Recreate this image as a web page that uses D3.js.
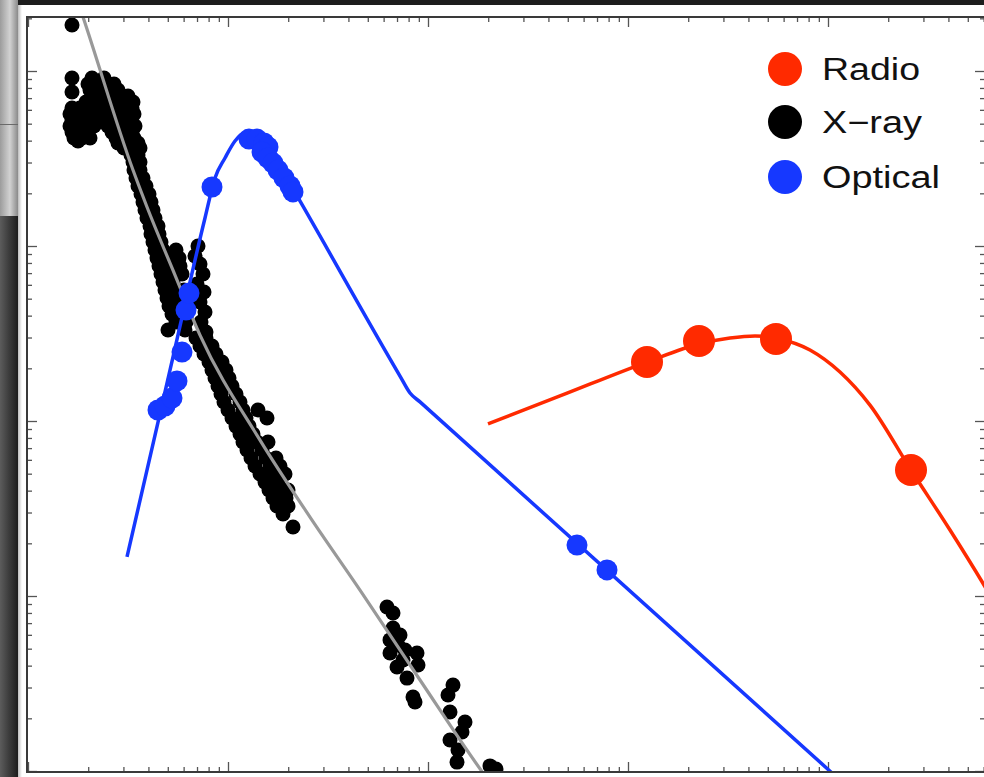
<!DOCTYPE html>
<html>
<head>
<meta charset="utf-8">
<script src="https://cdn.jsdelivr.net/npm/d3@7"></script>
<style>
html,body{margin:0;padding:0;background:#fff;overflow:hidden}
svg{display:block}
</style>
</head>
<body>
<svg id="chart" width="984" height="777"></svg>
<script>
// ---------------- data (log10 time, log10 flux) ----------------
const legendLabels = ["Radio", "X\u2212ray", "Optical"];

// X-ray observations [log10 t, log10 F]
const xray = [
  [2.22,1.263],[2.22,0.960],[2.22,0.880],
  [2.32,0.960],[2.38,0.960],
  [2.30,0.926],[2.35,0.926],[2.40,0.926],[2.43,0.926],
  [2.31,0.891],[2.36,0.891],[2.41,0.891],[2.45,0.891],
  [2.33,0.857],[2.38,0.857],[2.43,0.857],[2.47,0.857],[2.50,0.857],
  [2.29,0.823],[2.35,0.823],[2.40,0.823],[2.45,0.823],[2.49,0.823],[2.525,0.823],
  [2.22,0.789],[2.26,0.789],[2.31,0.789],[2.36,0.789],[2.42,0.789],[2.47,0.789],[2.52,0.789],
  [2.21,0.754],[2.25,0.754],[2.30,0.754],[2.34,0.754],[2.39,0.754],[2.44,0.754],[2.49,0.754],[2.53,0.754],
  [2.22,0.720],[2.27,0.720],[2.32,0.720],[2.37,0.720],[2.42,0.720],[2.46,0.720],[2.51,0.720],
  [2.21,0.686],[2.25,0.686],[2.29,0.686],[2.33,0.686],[2.40,0.686],[2.45,0.686],[2.50,0.686],[2.535,0.686],
  [2.22,0.651],[2.26,0.651],[2.30,0.651],[2.42,0.651],[2.47,0.651],[2.52,0.651],
  [2.23,0.617],[2.27,0.617],[2.31,0.617],[2.44,0.617],[2.49,0.617],[2.53,0.617],
  [2.25,0.600],[2.45,0.589],[2.50,0.589],[2.55,0.589],
  [2.48,0.560],[2.53,0.560],[2.56,0.560],
  [2.515,0.520],[2.55,0.520],
  [2.525,0.480],[2.56,0.480],
  [2.53,0.434],[2.56,0.434],
  [2.54,0.389],[2.575,0.389],
  [2.55,0.343],[2.59,0.343],
  [2.565,0.297],[2.605,0.297],
  [2.575,0.251],[2.615,0.251],
  [2.585,0.206],[2.625,0.206],
  [2.595,0.160],[2.635,0.160],
  [2.61,0.114],[2.65,0.114],
  [2.615,0.069],[2.655,0.069],
  [2.625,0.023],[2.665,0.023],
  [2.635,-0.023],[2.675,-0.023],[2.74,-0.023],
  [2.645,-0.069],[2.69,-0.069],[2.755,-0.069],
  [2.655,-0.114],[2.70,-0.114],[2.76,-0.114],
  [2.665,-0.160],[2.71,-0.160],[2.77,-0.160],
  [2.675,-0.206],[2.725,-0.206],
  [2.685,-0.251],[2.735,-0.251],[2.78,-0.251],
  [2.695,-0.297],[2.75,-0.297],
  [2.705,-0.343],[2.76,-0.343],
  [2.72,-0.389],[2.77,-0.389],
  [2.74,-0.434],[2.79,-0.434],
  [2.70,-0.480],[2.785,-0.480],
  [2.85,0.000],[2.835,-0.057],[2.86,-0.103],[2.875,-0.160],[2.845,-0.217],
  [2.88,-0.263],[2.86,-0.320],[2.885,-0.377],[2.865,-0.434],[2.89,-0.491],
  [2.84,-0.526],[2.89,-0.526],
  [2.86,-0.571],[2.92,-0.571],
  [2.88,-0.617],[2.94,-0.617],
  [2.905,-0.663],[2.97,-0.663],
  [2.92,-0.709],[2.99,-0.709],
  [2.935,-0.754],[3.005,-0.754],
  [2.95,-0.800],[3.02,-0.800],
  [2.965,-0.846],[3.04,-0.846],
  [2.98,-0.891],[3.06,-0.891],
  [3.00,-0.937],[3.075,-0.937],[3.15,-0.937],
  [3.02,-0.983],[3.09,-0.983],[3.195,-0.983],
  [3.04,-1.029],[3.105,-1.029],
  [3.06,-1.074],[3.125,-1.074],
  [3.075,-1.120],[3.145,-1.120],[3.20,-1.120],
  [3.095,-1.166],[3.17,-1.166],
  [3.115,-1.211],[3.19,-1.211],[3.24,-1.211],
  [3.135,-1.257],[3.21,-1.257],[3.26,-1.257],
  [3.16,-1.303],[3.23,-1.303],[3.285,-1.303],
  [3.185,-1.349],[3.25,-1.349],
  [3.205,-1.394],[3.27,-1.394],[3.30,-1.394],
  [3.225,-1.440],[3.29,-1.440],
  [3.245,-1.486],[3.30,-1.486],
  [3.275,-1.531],
  [3.325,-1.606],
  [3.795,-2.063],[3.825,-2.097],[3.825,-2.183],[3.86,-2.223],[3.81,-2.251],
  [3.85,-2.280],[3.885,-2.309],[3.81,-2.326],[3.945,-2.326],[3.875,-2.366],
  [3.95,-2.394],[3.845,-2.406],[3.895,-2.469],[3.925,-2.577],[3.935,-2.606],
  [4.125,-2.509],[4.10,-2.566],[4.11,-2.663],[4.185,-2.720],[4.17,-2.777],
  [4.11,-2.823],[4.15,-2.880],[4.145,-2.949],[4.31,-2.971],[4.34,-2.989]
];

// Optical observations
const optical = [
  [2.65,-0.937],[2.685,-0.914],[2.72,-0.869],[2.745,-0.771],[2.77,-0.606],
  [2.79,-0.366],[2.805,-0.269],[2.92,0.337],
  [3.105,0.611],[3.145,0.611],[3.18,0.589],[3.20,0.566],[3.17,0.537],
  [3.20,0.503],[3.225,0.474],[3.25,0.434],[3.28,0.389],[3.31,0.343],[3.325,0.309],
  [4.745,-1.709],[4.895,-1.851]
];

// Radio observations
const radio = [
  [5.095,-0.663],[5.355,-0.543],[5.74,-0.531],[6.415,-1.280]
];

// Model curves
const xrayModel = [
  [2.26,1.36],[2.275,1.309],[2.525,0.434],[2.595,0.223],[2.735,-0.166],[2.86,-0.509],
  [3.16,-1.109],[3.41,-1.549],[3.66,-1.966],[3.96,-2.480],[4.275,-3.011],[4.30,-3.05]
];
const opticalModel = [
  [2.495,-1.777],[2.71,-0.709],[2.885,0.160],[2.935,0.389],[2.985,0.503],[3.035,0.600],
  [3.08,0.646],[3.12,0.651],[3.16,0.629],[3.21,0.549],[3.27,0.434],[3.325,0.326],
  [3.86,-0.743],[3.91,-0.840],[3.96,-0.891],[6.02,-3.011]
];
const radioModel = [
  [4.30,-1.017],[4.66,-0.857],[5.095,-0.663],[5.355,-0.560],[5.51,-0.526],[5.635,-0.514],
  [5.76,-0.531],[5.91,-0.594],[6.06,-0.720],[6.21,-0.909],[6.415,-1.280],[6.61,-1.623],
  [6.78,-1.937],[6.91,-2.189]
];

// ---------------- drawing ----------------
const svg = d3.select("#chart");
const W = 984, H = 777;
const frame = {left: 27, right: 985, top: 17, bottom: 772};
const colors = {radio: "#ff2a00", xray: "#000000", optical: "#1638ff", fit: "#999999"};

const x = d3.scaleLog().domain([Math.pow(10, 2), Math.pow(10, 6.785)]).range([28, 985]);
const y = d3.scaleLog().domain([Math.pow(10, -3.0057), Math.pow(10, 1.3086)]).range([frame.bottom, frame.top]);
const px = d => x(Math.pow(10, d[0]));
const py = d => y(Math.pow(10, d[1]));

// backdrop (screen-capture surroundings)
const defs = svg.append("defs");
const gTop = defs.append("linearGradient").attr("id", "gTop").attr("x1", 0).attr("x2", 1).attr("y1", 0).attr("y2", 0);
gTop.append("stop").attr("offset", "0%").attr("stop-color", "#9c9c9c");
gTop.append("stop").attr("offset", "55%").attr("stop-color", "#d2d2d2");
gTop.append("stop").attr("offset", "100%").attr("stop-color", "#8a8a8a");
const gBot = defs.append("linearGradient").attr("id", "gBot").attr("x1", 0).attr("x2", 1).attr("y1", 0).attr("y2", 0);
gBot.append("stop").attr("offset", "0%").attr("stop-color", "#5c5c5c");
gBot.append("stop").attr("offset", "100%").attr("stop-color", "#1c1c1c");
const gSh = defs.append("linearGradient").attr("id", "gSh").attr("x1", 0).attr("x2", 1).attr("y1", 0).attr("y2", 0);
gSh.append("stop").attr("offset", "0%").attr("stop-color", "#bdbdbd");
gSh.append("stop").attr("offset", "100%").attr("stop-color", "#ffffff");

svg.append("rect").attr("width", W).attr("height", H).attr("fill", "#fff");
svg.append("rect").attr("x", 0).attr("y", 0).attr("width", W).attr("height", 5).attr("fill", "#1d1d1d");
svg.append("rect").attr("x", 0).attr("y", 0).attr("width", 18).attr("height", 216).attr("fill", "url(#gTop)");
svg.append("line").attr("x1", 0).attr("x2", 18).attr("y1", 124.5).attr("y2", 124.5).attr("stroke", "#6a6a6a").attr("stroke-width", 1);
svg.append("rect").attr("x", 0).attr("y", 216).attr("width", 18).attr("height", H - 216).attr("fill", "url(#gBot)");
svg.append("rect").attr("x", 18).attr("y", 5).attr("width", 4).attr("height", H - 5).attr("fill", "url(#gSh)");

defs.append("clipPath").attr("id", "clip").append("rect")
  .attr("x", frame.left).attr("y", frame.top)
  .attr("width", frame.right - frame.left).attr("height", frame.bottom - frame.top);

// axes (ticks only, pointing inward)
const isMajor = v => Math.abs(Math.log10(v) - Math.round(Math.log10(v))) < 1e-6;
const xt = x.ticks(), yt = y.ticks();
const xMaj = xt.filter(isMajor), xMin = xt.filter(v => !isMajor(v));
const yMaj = yt.filter(isMajor), yMin = yt.filter(v => !isMajor(v));

function axis(gen, vals, size, transform) {
  const g = svg.append("g").attr("transform", transform)
    .call(gen.tickValues(vals).tickSize(-size).tickSizeOuter(0).tickFormat(""));
  g.select(".domain").remove();
  g.selectAll(".tick line").attr("stroke", "#555").attr("stroke-width", 1.3);
}
axis(d3.axisBottom(x), xMaj, 10, `translate(0,${frame.bottom})`);
axis(d3.axisBottom(x), xMin, 5, `translate(0,${frame.bottom})`);
axis(d3.axisTop(x), xMaj, 10, `translate(0,${frame.top})`);
axis(d3.axisTop(x), xMin, 5, `translate(0,${frame.top})`);
axis(d3.axisLeft(y), yMaj, 10, `translate(${frame.left},0)`);
axis(d3.axisLeft(y), yMin, 5, `translate(${frame.left},0)`);
axis(d3.axisRight(y), yMaj, 10, `translate(${frame.right},0)`);
axis(d3.axisRight(y), yMin, 5, `translate(${frame.right},0)`);

const plot = svg.append("g").attr("clip-path", "url(#clip)");

// X-ray points
plot.append("g").selectAll("circle").data(xray).join("circle")
  .attr("cx", px).attr("cy", py).attr("r", 7.5).attr("fill", colors.xray);

const line = d3.line().x(px).y(py).curve(d3.curveMonotoneX);

plot.append("path").attr("d", line(xrayModel)).attr("fill", "none")
  .attr("stroke", colors.fit).attr("stroke-width", 3.2);

plot.append("path").attr("d", line(opticalModel)).attr("fill", "none")
  .attr("stroke", colors.optical).attr("stroke-width", 3.5);
plot.append("g").selectAll("circle").data(optical).join("circle")
  .attr("cx", px).attr("cy", py).attr("r", 10.5).attr("fill", colors.optical);

plot.append("path").attr("d", line(radioModel)).attr("fill", "none")
  .attr("stroke", colors.radio).attr("stroke-width", 3.5);
plot.append("g").selectAll("circle").data(radio).join("circle")
  .attr("cx", px).attr("cy", py).attr("r", 16).attr("fill", colors.radio);

// frame
svg.append("rect").attr("x", frame.left).attr("y", frame.top)
  .attr("width", frame.right - frame.left).attr("height", frame.bottom - frame.top)
  .attr("fill", "none").attr("stroke", "#3a3a3a").attr("stroke-width", 2);

// legend
const legendColors = [colors.radio, colors.xray, colors.optical];
const legendWidths = [98, 100, 118];
const legendRows = [69, 122, 177];
const lg = svg.append("g");
legendLabels.forEach((lab, i) => {
  lg.append("circle").attr("cx", 785).attr("cy", legendRows[i]).attr("r", 17).attr("fill", legendColors[i]);
  lg.append("text").attr("x", 822).attr("y", legendRows[i] + 10.5)
    .attr("font-family", "Liberation Sans, Arial, Helvetica, sans-serif")
    .attr("font-size", 31).attr("fill", "#111")
    .attr("textLength", legendWidths[i]).attr("lengthAdjust", "spacingAndGlyphs")
    .text(lab);
});
</script>
</body>
</html>
